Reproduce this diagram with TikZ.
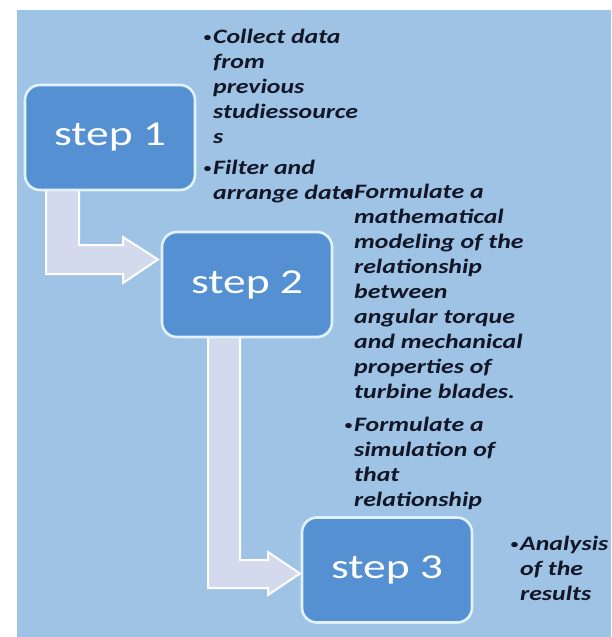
\documentclass[tikz,border=0pt]{standalone}
\usepackage{fontspec}
\setmainfont{Carlito}
\usepackage{graphicx}
\definecolor{bgblue}{RGB}{158,195,229}
\definecolor{boxblue}{RGB}{84,144,210}
\definecolor{boxline}{RGB}{225,242,252}
\definecolor{arrowfill}{RGB}{212,218,238}
\definecolor{txtcol}{RGB}{18,22,38}
\newcommand{\hsq}[1]{\scalebox{1.26}[1]{#1}}
\newcommand{\bul}{\llap{\raisebox{1.6pt}{\scalebox{0.6}{\textbullet}}\kern1.5pt}}
\tikzset{
  stepbox/.style={draw=boxline, line width=2.6pt, fill=boxblue, rounded corners=15pt,
    minimum width=170pt, minimum height=105pt, inner sep=0pt,
    font=\fontsize{35}{40}\selectfont, text=white},
  bentarrow/.style={draw=white, line width=2pt, fill=arrowfill, line join=miter},
  notes/.style={inner sep=0pt, anchor=base west, text=txtcol,
    font=\fontsize{20.5}{25}\selectfont\bfseries\itshape}
}
\begin{document}
\begin{tikzpicture}[x=1pt,y=-1pt]
\useasboundingbox (0,0) rectangle (611,637);
\fill[white] (0,0) rectangle (611,637);
\fill[bgblue] (17,10) rectangle (611,637);
% bent arrows
\draw[bentarrow] (46,186) -- (46,274) -- (123,274) -- (123,283) -- (158,259.5)
  -- (123,237) -- (123,245) -- (79,245) -- (79,186) -- cycle;
\draw[bentarrow] (208,330) -- (208,588) -- (268,588) -- (268,595) -- (300,573.5)
  -- (268,552) -- (268,560) -- (240,560) -- (240,330) -- cycle;
% steps
\node[stepbox] (s1) at (110,137.5) {\scalebox{1.3}[1]{step 1}};
\node[stepbox] (s2) at (247,284.5) {\scalebox{1.3}[1]{step 2}};
\node[stepbox] (s3) at (387,570) {\scalebox{1.3}[1]{step 3}};
% notes
\node[notes] (n1) at (213,43) {\hsq{\begin{tabular}[t]{@{}l@{}}
\bul Collect data\\ from\\ previous\\ studiessource\\ s\\[6pt]
\bul Filter and\\ arrange data\end{tabular}}};
\node[notes] (n2) at (354,198) {\hsq{\begin{tabular}[t]{@{}l@{}}
\bul Formulate a\\ mathematical\\ modeling of the\\ relationship\\ between\\
angular torque\\ and mechanical\\ properties of\\ turbine blades.\\[8pt]
\bul Formulate a\\ simulation of\\ that\\ relationship\end{tabular}}};
\node[notes] (n3) at (520,550) {\hsq{\begin{tabular}[t]{@{}l@{}}
\bul Analysis\\ of the\\ results\end{tabular}}};
\end{tikzpicture}
\end{document}
